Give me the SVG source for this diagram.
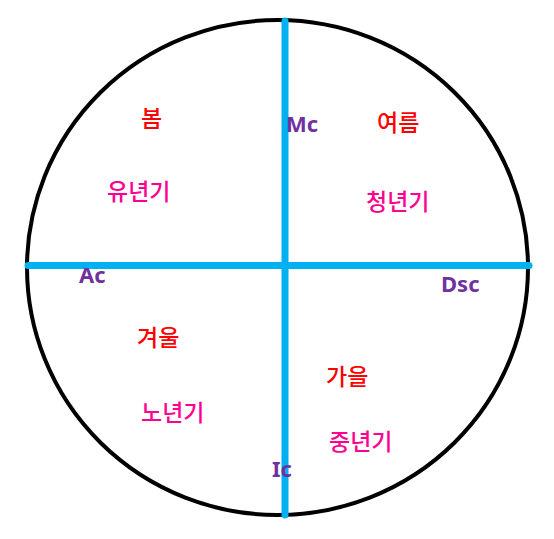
<svg xmlns="http://www.w3.org/2000/svg" width="554" height="539" viewBox="0 0 554 539">
<style>
.season{font-family:"Noto Sans CJK KR","Noto Sans",sans-serif;font-size:23px;font-weight:500;fill:#FF0000}
.age{font-family:"Noto Sans CJK KR","Noto Sans",sans-serif;font-size:23px;font-weight:500;fill:#FF0090}
.pt{font-family:"Noto Sans","Noto Sans CJK KR",sans-serif;font-size:22px;font-weight:bold;fill:#7030A0}
.axis{stroke:#00B0F0;stroke-width:7;stroke-linecap:round;fill:none}
</style>
<rect width="554" height="539" fill="#FFFFFF"/>
<g id="circle"><ellipse cx="277.5" cy="267.5" rx="250.5" ry="247.5" fill="none" stroke="#000000" stroke-width="4"/></g>
<g id="connectors">
<line class="axis" x1="285" y1="21" x2="285" y2="515"/>
<line class="axis" x1="28" y1="265.5" x2="529" y2="265.5"/>
</g>
<g id="spring"><text class="season" x="141" y="127">봄</text></g>
<g id="youth"><text class="age" x="107" y="200">유년기</text></g>
<g id="mc"><text class="pt" x="286" y="132">Mc</text></g>
<g id="summer"><text class="season" x="377" y="131">여름</text></g>
<g id="young"><text class="age" x="366" y="210">청년기</text></g>
<g id="ac"><text class="pt" x="79" y="283">Ac</text></g>
<g id="dsc"><text class="pt" x="441" y="292">Dsc</text></g>
<g id="winter"><text class="season" x="137" y="346">겨울</text></g>
<g id="old"><text class="age" x="141" y="421">노년기</text></g>
<g id="autumn"><text class="season" x="326" y="385">가을</text></g>
<g id="middle"><text class="age" x="329" y="450">중년기</text></g>
<g id="ic"><text class="pt" x="272" y="477">Ic</text></g>
</svg>
